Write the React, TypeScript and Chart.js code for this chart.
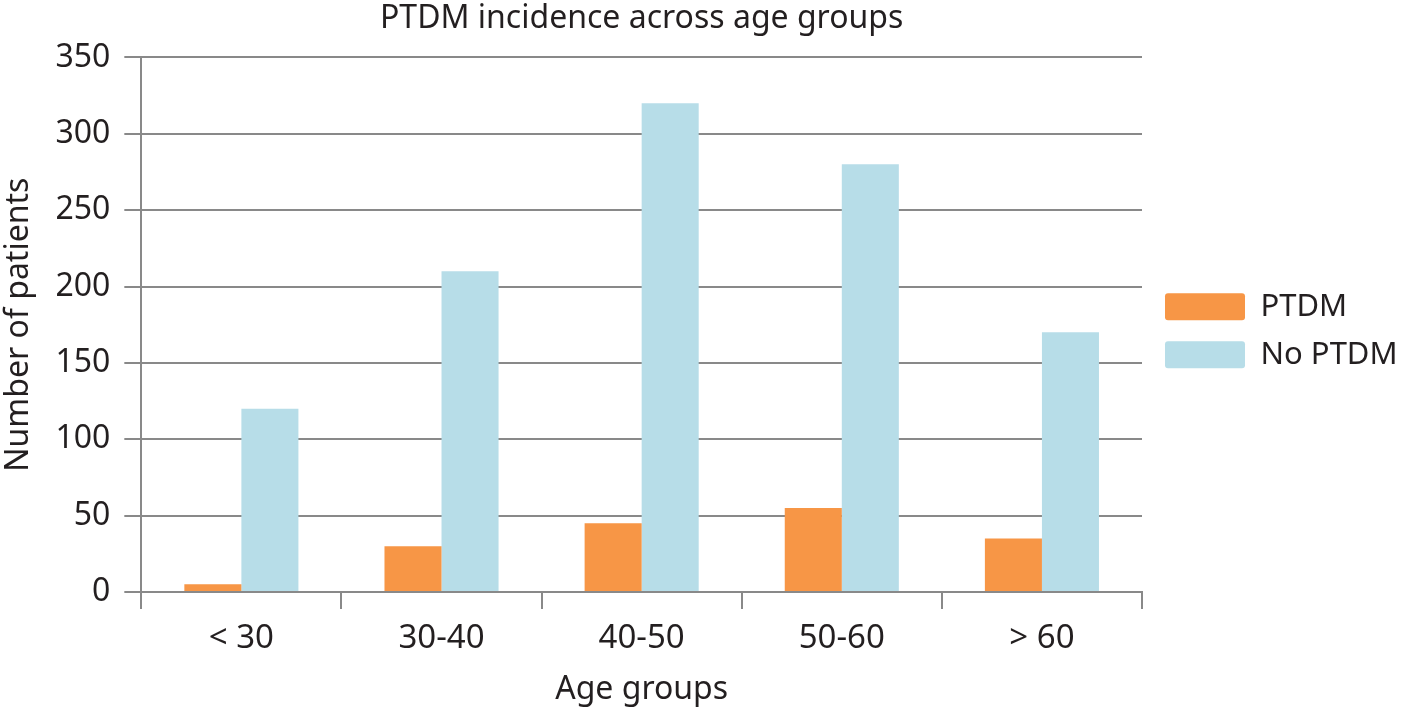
import React, { useEffect, useRef } from "react";
import { Chart, registerables } from "chart.js";

Chart.register(...registerables);

const categories = ["< 30", "30-40", "40-50", "50-60", "> 60"];
const ptdmValues = [5, 30, 45, 55, 35];
const noPtdmValues = [120, 210, 320, 280, 170];
const seriesNames = ["PTDM", "No PTDM"];

const FONT = "'Noto Sans', sans-serif";
const TEXT = "#231f20";
const GRID = "#898989";

function buildChart(canvas: HTMLCanvasElement) {
  return new Chart(canvas, {
    type: "bar",
    data: {
      labels: categories,
      datasets: [
        {
          label: seriesNames[0],
          data: ptdmValues,
          backgroundColor: "#f79646",
          categoryPercentage: 0.57,
          barPercentage: 1.0,
        },
        {
          label: seriesNames[1],
          data: noPtdmValues,
          backgroundColor: "#b7dde8",
          categoryPercentage: 0.57,
          barPercentage: 1.0,
        },
      ],
    },
    options: {
      animation: false,
      responsive: true,
      maintainAspectRatio: false,
      devicePixelRatio: 1,
      layout: { padding: { top: 0, right: 6, bottom: 10, left: 0 } },
      plugins: {
        title: {
          display: true,
          text: "PTDM incidence across age groups",
          color: TEXT,
          font: { family: FONT, size: 32, weight: "normal" },
          padding: { top: 0, bottom: 19 },
          fullSize: false,
        },
        legend: {
          position: "right",
          fullSize: false,
          maxWidth: 250,
          title: {
            display: true,
            text: " ",
            font: { family: FONT, size: 10 },
            padding: 0,
          },
          labels: {
            color: TEXT,
            font: { family: FONT, size: 31 },
            boxWidth: 80,
            boxHeight: 27,
            padding: 17,
            useBorderRadius: true,
            borderRadius: 3,
          },
        },
        tooltip: { enabled: false },
      },
      scales: {
        x: {
          grid: {
            display: true,
            drawOnChartArea: false,
            drawTicks: true,
            tickLength: 17,
            offset: true,
            color: GRID,
            lineWidth: 2,
          },
          border: { display: true, color: GRID, width: 2 },
          ticks: {
            color: TEXT,
            font: { family: FONT, size: 33 },
            padding: 10,
          },
          title: {
            display: true,
            text: "Age groups",
            color: TEXT,
            font: { family: FONT, size: 32 },
            padding: { top: 2, bottom: 0 },
          },
        },
        y: {
          min: 0,
          max: 350,
          ticks: {
            stepSize: 50,
            color: TEXT,
            font: { family: FONT, size: 32 },
            padding: 14,
          },
          grid: {
            color: GRID,
            lineWidth: 2,
            tickLength: 17,
            drawTicks: true,
          },
          border: { display: true, color: GRID, width: 2 },
          title: {
            display: true,
            text: "Number of patients",
            color: TEXT,
            font: { family: FONT, size: 32 },
            padding: { top: 0, bottom: 3 },
          },
        },
        gap: {
          position: "right",
          display: true,
          grid: { display: false },
          border: { display: false },
          ticks: { display: false },
          afterFit: (scale: any) => {
            scale.width = 6;
          },
        },
      },
    },
  });
}

export default function App() {
  const ref = useRef<HTMLCanvasElement | null>(null);
  useEffect(() => {
    const canvas = ref.current;
    if (!canvas) return;
    let cancelled = false;
    let chart: Chart | null = buildChart(canvas);
    const fonts = (document as any).fonts;
    if (fonts && fonts.load) {
      Promise.all([
        fonts.load("32px 'Noto Sans'"),
        fonts.load("33px 'Noto Sans'"),
      ]).then(() => {
        if (cancelled) return;
        if (chart) chart.destroy();
        chart = buildChart(canvas);
      });
    }
    return () => {
      cancelled = true;
      if (chart) chart.destroy();
      chart = null;
    };
  }, []);
  return (
    <div
      style={{
        position: "fixed",
        left: 0,
        top: 0,
        width: 1404,
        height: 719,
        background: "#fff",
      }}
    >
      <canvas ref={ref} />
    </div>
  );
}
